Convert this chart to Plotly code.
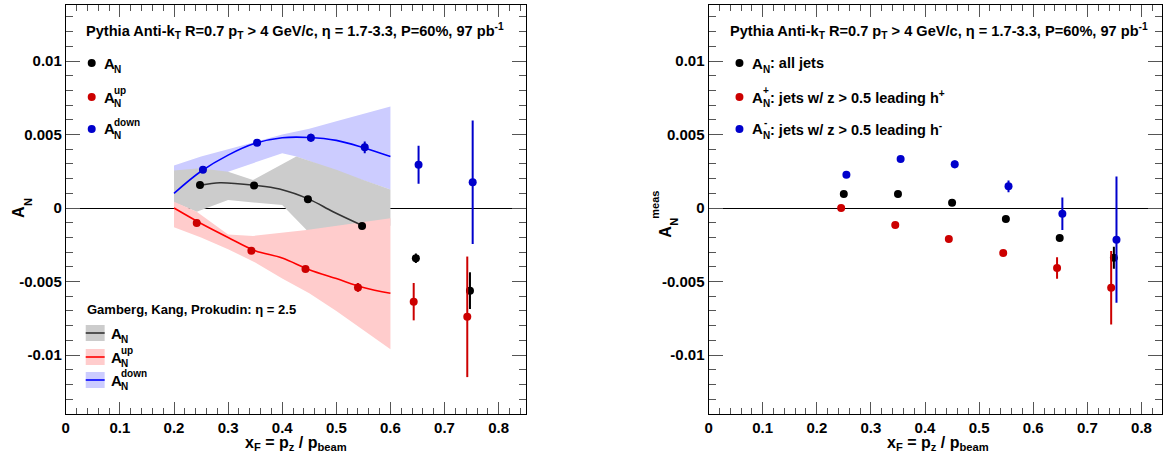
import plotly.graph_objects as go

W, H = 1164, 464

# ---------------- data: left panel (projections + theory) ----------------
xf_black = [0.248, 0.348, 0.4475, 0.5476, 0.647, 0.747]
an_black = [0.00156, 0.00154, 0.00059, -0.00122, -0.00342, -0.00562]
err_black = [0.0001, 0.0001, 0.00012, 0.00015, 0.00032, 0.00125]

xf_red = [0.242, 0.343, 0.443, 0.54, 0.643, 0.742]
an_red = [-0.00102, -0.0029, -0.00415, -0.0054, -0.00637, -0.0074]
err_red = [0.0001, 0.0001, 0.0002, 0.0003, 0.00127, 0.0041]

xf_blue = [0.2535, 0.3536, 0.453, 0.5525, 0.652, 0.752]
an_blue = [0.0026, 0.00444, 0.00478, 0.00413, 0.00295, 0.00175]
err_blue = [0.0001, 0.0001, 0.00027, 0.0004, 0.00129, 0.0042]

# theory curves (Gamberg, Kang, Prokudin)
th_x = [0.2, 0.25, 0.3, 0.35, 0.4, 0.45, 0.5, 0.55, 0.6]
th_blue = [0.0010, 0.0025, 0.0036, 0.0044, 0.00478, 0.0048, 0.0046, 0.0041, 0.0035]
th_red = [0.0, -0.00105, -0.0020, -0.0029, -0.0034, -0.0042, -0.0048, -0.0054, -0.0058]
th_black_x = [0.25, 0.285, 0.35, 0.395, 0.45, 0.494, 0.55]
th_black = [0.00156, 0.00172, 0.00154, 0.00129, 0.00059, -0.00025, -0.00122]

# theory bands
band_blue_x = [0.2, 0.25, 0.3, 0.35, 0.4, 0.426, 0.45, 0.5, 0.55, 0.6]
band_blue_hi = [0.0029, 0.0035, 0.0040, 0.0045, 0.0050, 0.0052, 0.0054, 0.0059, 0.0064, 0.0069]
band_blue_lo = [0.0, 0.0015, 0.00247, 0.0031, 0.00373, 0.0035, 0.0032, 0.0025, 0.0019, 0.00126]

band_gray_hi_x = [0.2, 0.248, 0.3, 0.346, 0.426, 0.5, 0.55, 0.6]
band_gray_hi = [0.00255, 0.0027, 0.00247, 0.0019, 0.0035, 0.0026, 0.0019, 0.00126]
band_gray_lo_x = [0.2, 0.242, 0.3, 0.4, 0.445, 0.5, 0.55, 0.6]
band_gray_lo = [0.0004, -0.00025, 0.00054, 0.0002, -0.0015, -0.0016, -0.0014, -0.0012]

band_red_hi_x = [0.2, 0.242, 0.3, 0.346, 0.445, 0.6]
band_red_hi = [0.00043, -0.00025, -0.0018, -0.0019, -0.0015, -0.0007]
band_red_lo_x = [0.2, 0.25, 0.3, 0.35, 0.4, 0.45, 0.5, 0.55, 0.6]
band_red_lo = [-0.0013, -0.0020, -0.0028, -0.0037, -0.0048, -0.0058, -0.0070, -0.0083, -0.0096]

# ---------------- data: right panel (measured) ----------------
r_xf_black = [0.2499, 0.35, 0.45, 0.5494, 0.6489, 0.749]
r_an_black = [0.00095, 0.00095, 0.00036, -0.00075, -0.00204, -0.00338]
r_err_black = [0.0001, 0.0001, 0.0001, 0.00012, 0.00015, 0.00075]

r_xf_red = [0.245, 0.345, 0.444, 0.5445, 0.644, 0.744]
r_an_red = [0.0, -0.00116, -0.00211, -0.00306, -0.00408, -0.00542]
r_err_red = [0.0001, 0.0001, 0.00012, 0.00015, 0.00073, 0.0025]

r_xf_blue = [0.2547, 0.3549, 0.4549, 0.5543, 0.6538, 0.7538]
r_an_blue = [0.00227, 0.00333, 0.00297, 0.00148, -0.00039, -0.00215]
r_err_blue = [0.0001, 0.0001, 0.00027, 0.0004, 0.0011, 0.0043]

ytick_vals = [-0.01, -0.005, 0, 0.005, 0.01]
ytick_text = ["-0.01", "-0.005", "0", "0.005", "0.01"]
xtick_vals = [0, 0.1, 0.2, 0.3, 0.4, 0.5, 0.6, 0.7, 0.8]
xtick_text = ["0", "0.1", "0.2", "0.3", "0.4", "0.5", "0.6", "0.7", "0.8"]

# ---------------- styling ----------------
FONT = "Liberation Sans"
C_BLACK = "#000000"
C_RED = "#cc0000"
C_BLUE = "#0000cc"
B_BLUE = "#ccccff"
B_GRAY = "#cccccc"
B_RED = "#ffcccc"


def px(x):
    return x / W


def py(y):
    return 1 - y / H


fig = go.Figure()


def band(xh, yh, xl, yl, color, xa, ya):
    fig.add_trace(go.Scatter(
        x=list(xh) + list(xl)[::-1], y=list(yh) + list(yl)[::-1],
        fill="toself", fillcolor=color, line=dict(width=0, color=color),
        mode="lines", hoverinfo="skip", showlegend=False, xaxis=xa, yaxis=ya))


band(band_blue_x, band_blue_hi, band_blue_x, band_blue_lo, B_BLUE, "x", "y")
band(band_gray_hi_x, band_gray_hi, band_gray_lo_x, band_gray_lo, B_GRAY, "x", "y")
band(band_red_hi_x, band_red_hi, band_red_lo_x, band_red_lo, B_RED, "x", "y")

for xs, ys, col in [(th_black_x, th_black, "#333333"), (th_x, th_red, "#ff0000"), (th_x, th_blue, "#0000ff")]:
    fig.add_trace(go.Scatter(x=xs, y=ys, mode="lines", line=dict(color=col, width=1.6, shape="spline"),
                             showlegend=False, xaxis="x", yaxis="y"))


def points(xs, ys, es, col, xa, ya):
    fig.add_trace(go.Scatter(
        x=xs, y=ys, mode="markers", marker=dict(color=col, size=8),
        error_y=dict(type="data", array=es, visible=True, color=col, thickness=2, width=0),
        showlegend=False, xaxis=xa, yaxis=ya))


points(xf_black, an_black, err_black, C_BLACK, "x", "y")
points(xf_red, an_red, err_red, C_RED, "x", "y")
points(xf_blue, an_blue, err_blue, C_BLUE, "x", "y")
points(r_xf_black, r_an_black, r_err_black, C_BLACK, "x2", "y2")
points(r_xf_red, r_an_red, r_err_red, C_RED, "x2", "y2")
points(r_xf_blue, r_an_blue, r_err_blue, C_BLUE, "x2", "y2")

Y0, Y1 = 5, 414
YR = [-0.01401, 0.01381]

common_x = dict(
    range=[0, 0.85], tickvals=xtick_vals, ticktext=xtick_text,
    ticks="inside", ticklen=12, tickcolor="#555555", tickwidth=1,
    minor=dict(ticks="inside", ticklen=6, dtick=0.02, tick0=0, tickcolor="#555555", tickwidth=1),
    showline=True, linecolor="#000000", linewidth=1, mirror="allticks",
    showgrid=False, zeroline=False,
    tickfont=dict(family=FONT, size=15, color="#000000", weight="bold"),
)
common_y = dict(
    range=YR, tickvals=ytick_vals, ticktext=ytick_text,
    ticks="inside", ticklen=14, tickcolor="#555555", tickwidth=1,
    minor=dict(ticks="inside", ticklen=7, dtick=0.001, tick0=0, tickcolor="#555555", tickwidth=1),
    showline=True, linecolor="#000000", linewidth=1, mirror="allticks",
    showgrid=False, zeroline=True, zerolinecolor="#000000", zerolinewidth=1,
    tickfont=dict(family=FONT, size=15, color="#000000", weight="bold"),
    domain=[py(Y1), py(Y0)],
)

xa1 = dict(common_x); xa1.update(domain=[px(62), px(523.5)], anchor="y")
xa2 = dict(common_x); xa2.update(domain=[px(707), px(1162)], anchor="y2", range=[0, (1162 - 707) / 543])
ya1 = dict(common_y); ya1.update(anchor="x")
ya2 = dict(common_y); ya2.update(anchor="x2")

fig.update_layout(
    width=W, height=H, margin=dict(l=0, r=0, t=0, b=0),
    paper_bgcolor="white", plot_bgcolor="white", showlegend=False,
    xaxis=xa1, xaxis2=xa2, yaxis=ya1, yaxis2=ya2,
)

ann = []
shapes = []


def text(x, y, s, size=15, xanchor="left", yanchor="middle", angle=0, color="#000000"):
    ann.append(dict(x=px(x), y=py(y), xref="paper", yref="paper", text=s, showarrow=False,
                    xanchor=xanchor, yanchor=yanchor, textangle=angle,
                    font=dict(family=FONT, size=size, color=color, weight="bold")))


def a_label(x, y, sub, sup=None):
    text(x, y, "A", size=15)
    text(x + 10.5, y + 6, sub, size=10)
    if sup:
        text(x + 10.5, y - 7, sup, size=10)


def dot(cx, cy, col, r=4):
    shapes.append(dict(type="circle", xref="paper", yref="paper", x0=px(cx - r), x1=px(cx + r),
                       y0=py(cy + r), y1=py(cy - r), fillcolor=col, line=dict(width=0)))


title = "Pythia Anti-k<sub>T</sub> R=0.7 p<sub>T</sub> > 4 GeV/c, η = 1.7-3.3, P=60%, 97 pb<sup>-1</sup>"
text(80, 31, title, size=14.6)
text(726, 31, title, size=14.6)

# left legend (points)
for cy, col, sub, sup in [(63, C_BLACK, "N", None), (97, C_RED, "N", "up"), (129, C_BLUE, "N", "down")]:
    dot(88, cy, col)
    a_label(98, cy, sub, sup)

# right legend
dot(738, 63, C_BLACK)
text(749, 63, "A", size=15)
text(759.5, 69, "N", size=10)
text(767, 63, ": all jets", size=14.5)
dot(738, 97, C_RED)
text(749, 97, "A", size=15)
text(759.5, 103, "N", size=10)
text(759.5, 90, "+", size=10)
text(767, 97, ": jets w/ z > 0.5 leading h<sup>+</sup>", size=14.5)
dot(738, 129, C_BLUE)
text(749, 129, "A", size=15)
text(759.5, 135, "N", size=10)
text(760.5, 122, "-", size=10)
text(767, 129, ": jets w/ z > 0.5 leading h<sup>-</sup>", size=14.5)

# theory legend
text(81, 309, "Gamberg, Kang, Prokudin: η = 2.5", size=13)
for cy, fillc, linec, sup in [(333, B_GRAY, "#333333", None), (357, B_RED, "#ff0000", "up"), (380, B_BLUE, "#0000ff", "down")]:
    shapes.append(dict(type="rect", xref="paper", yref="paper", x0=px(82), x1=px(101),
                       y0=py(cy + 8), y1=py(cy - 8), fillcolor=fillc, line=dict(width=0)))
    shapes.append(dict(type="line", xref="paper", yref="paper", x0=px(82), x1=px(101),
                       y0=py(cy), y1=py(cy), line=dict(color=linec, width=1.6)))
    a_label(105, cy, "N", sup)

# axis titles
text(293, 443, "x<sub>F</sub> = p<sub>z</sub> / p<sub>beam</sub>", size=16, xanchor="center")
text(937, 443, "x<sub>F</sub> = p<sub>z</sub> / p<sub>beam</sub>", size=16, xanchor="center")
text(14, 212, "A", size=16, xanchor="center", angle=-90)
text(24, 202, "N", size=11, xanchor="center", angle=-90)
text(663, 232, "A", size=16, xanchor="center", angle=-90)
text(672, 222, "N", size=11, xanchor="center", angle=-90)
text(653, 205, "meas", size=11, xanchor="center", angle=-90)

fig.update_layout(annotations=ann, shapes=shapes)

fig.write_html("out.html", config={"displayModeBar": False},
               post_script="document.body.style.margin='0';")
